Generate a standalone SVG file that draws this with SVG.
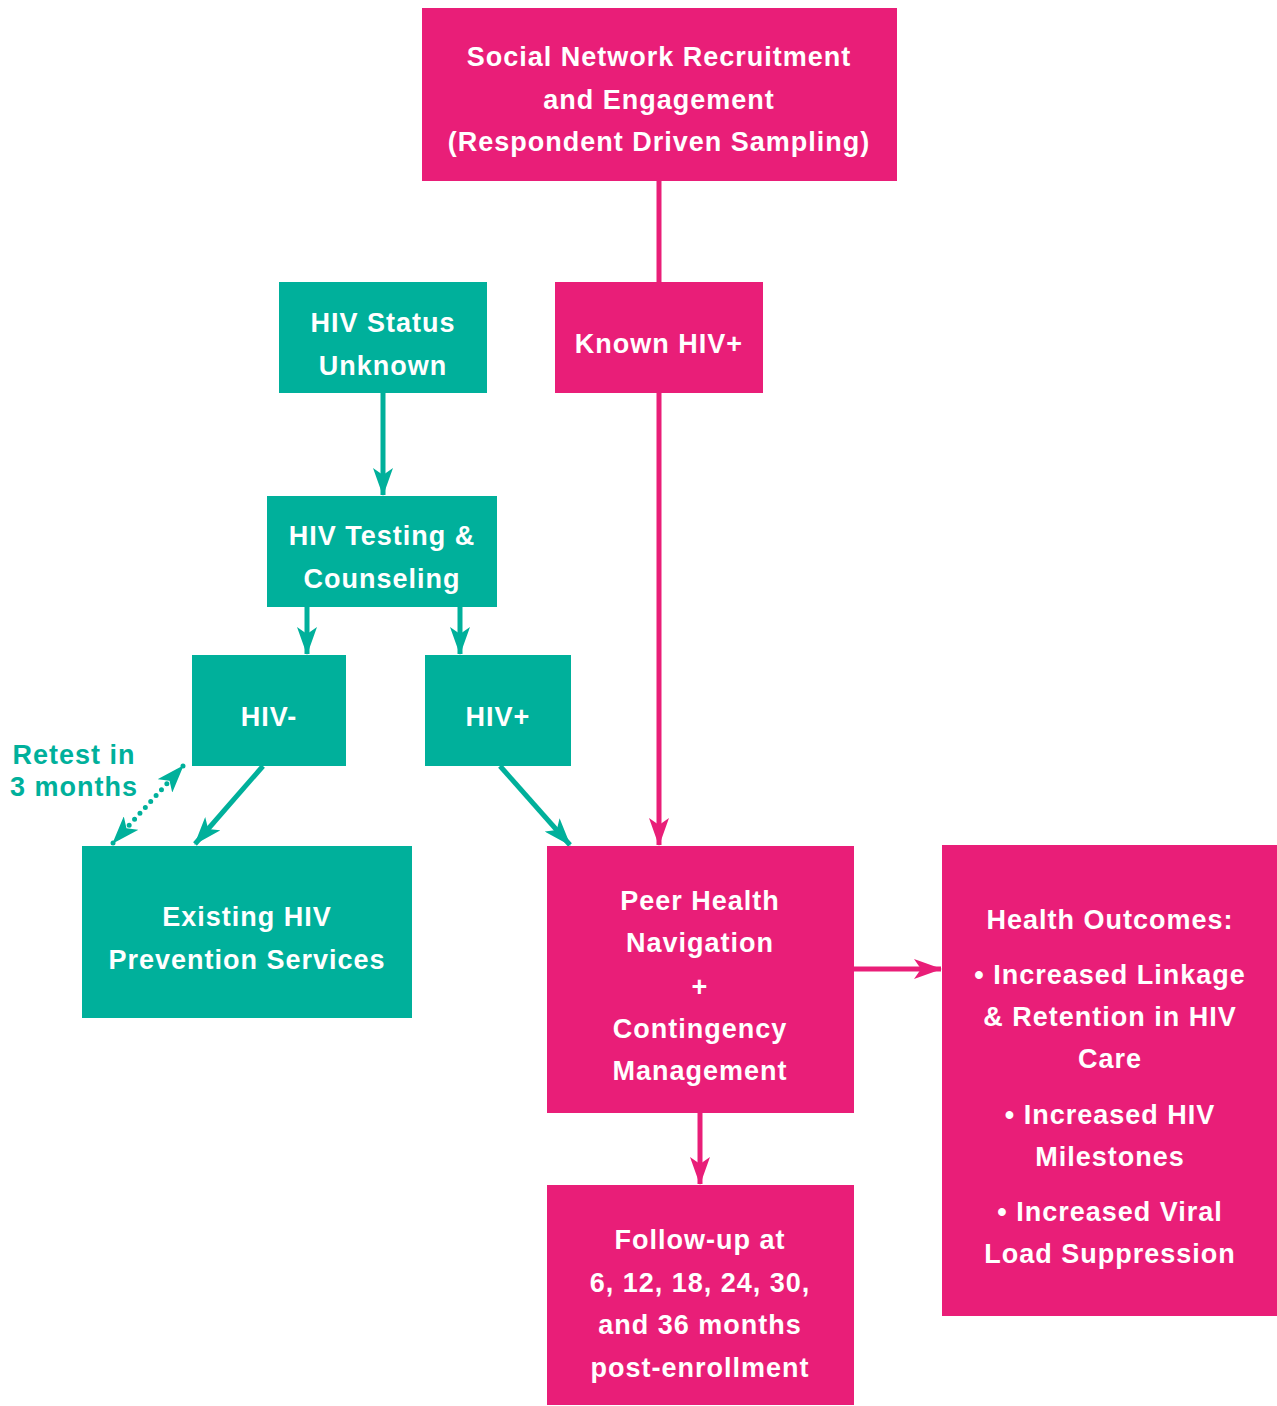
<svg xmlns="http://www.w3.org/2000/svg" width="1277" height="1406" viewBox="0 0 1277 1406">
<style>
.p{fill:#E91E78}
.t{fill:#00B09B}
text{font-family:"Liberation Sans",Arial,sans-serif;font-weight:bold;font-size:27px;text-anchor:middle;fill:#fff;letter-spacing:1px}
.lt{fill:#00B09B}
.cp{stroke:#E91E78;stroke-width:5;fill:none}
.ct{stroke:#00B09B;stroke-width:5;fill:none}
</style>
<defs>
<marker id="ap" viewBox="0 0 28 20" refX="27" refY="10" markerWidth="28" markerHeight="20" markerUnits="userSpaceOnUse" orient="auto"><path d="M0,0 L28,10 L0,20 L7,10 z" fill="#E91E78"/></marker>
<marker id="at" viewBox="0 0 28 20" refX="27" refY="10" markerWidth="28" markerHeight="20" markerUnits="userSpaceOnUse" orient="auto-start-reverse"><path d="M0,0 L28,10 L0,20 L7,10 z" fill="#00B09B"/></marker>
</defs>
<rect width="1277" height="1406" fill="#fff"/>
<g id="connectors">
<line class="cp" x1="659" y1="181" x2="659" y2="282"/>
<line class="cp" x1="659" y1="393" x2="659" y2="845" marker-end="url(#ap)"/>
<line class="ct" x1="383" y1="393" x2="383" y2="495" marker-end="url(#at)"/>
<line class="ct" x1="307" y1="607" x2="307" y2="654" marker-end="url(#at)"/>
<line class="ct" x1="460" y1="607" x2="460" y2="654" marker-end="url(#at)"/>
<line class="ct" x1="263" y1="766" x2="195" y2="844" marker-end="url(#at)"/>
<line class="ct" x1="500" y1="766" x2="570" y2="845" marker-end="url(#at)"/>
<line class="ct" x1="183" y1="766" x2="113" y2="843" stroke-dasharray="0 8" stroke-linecap="round" marker-start="url(#at)" marker-end="url(#at)"/>
<line class="cp" x1="854" y1="969" x2="941" y2="969" marker-end="url(#ap)"/>
<line class="cp" x1="700" y1="1113" x2="700" y2="1184" marker-end="url(#ap)"/>
</g>
<g id="n-social"><rect class="p" x="422" y="8" width="475" height="173"/>
<text x="659" y="66">Social Network Recruitment</text><text x="659" y="109">and Engagement</text><text x="659" y="151">(Respondent Driven Sampling)</text></g>
<g id="n-known"><rect class="p" x="555" y="282" width="208" height="111"/><text x="659" y="353">Known HIV+</text></g>
<g id="n-unknown"><rect class="t" x="279" y="282" width="208" height="111"/><text x="383" y="332">HIV Status</text><text x="383" y="375">Unknown</text></g>
<g id="n-testing"><rect class="t" x="267" y="496" width="230" height="111"/><text x="382" y="545">HIV Testing &amp;</text><text x="382" y="588">Counseling</text></g>
<g id="n-neg"><rect class="t" x="192" y="655" width="154" height="111"/><text x="269" y="726">HIV-</text></g>
<g id="n-pos"><rect class="t" x="425" y="655" width="146" height="111"/><text x="498" y="726">HIV+</text></g>
<g id="n-retest"><text class="lt" x="74" y="764">Retest in</text><text class="lt" x="74" y="796">3 months</text></g>
<g id="n-existing"><rect class="t" x="82" y="846" width="330" height="172"/><text x="247" y="926">Existing HIV</text><text x="247" y="969">Prevention Services</text></g>
<g id="n-peer"><rect class="p" x="547" y="846" width="307" height="267"/>
<text x="700" y="910">Peer Health</text><text x="700" y="952">Navigation</text><text x="700" y="996">+</text><text x="700" y="1038">Contingency</text><text x="700" y="1080">Management</text></g>
<g id="n-outcomes"><rect class="p" x="942" y="845" width="335" height="471"/>
<text x="1110" y="929">Health Outcomes:</text>
<text x="1110" y="984">• Increased Linkage</text><text x="1110" y="1026">&amp; Retention in HIV</text><text x="1110" y="1068">Care</text>
<text x="1110" y="1124">• Increased HIV</text><text x="1110" y="1166">Milestones</text>
<text x="1110" y="1221">• Increased Viral</text><text x="1110" y="1263">Load Suppression</text></g>
<g id="n-follow"><rect class="p" x="547" y="1185" width="307" height="220"/>
<text x="700" y="1249">Follow-up at</text><text x="700" y="1292">6, 12, 18, 24, 30,</text><text x="700" y="1334">and 36 months</text><text x="700" y="1377">post-enrollment</text></g>
</svg>
